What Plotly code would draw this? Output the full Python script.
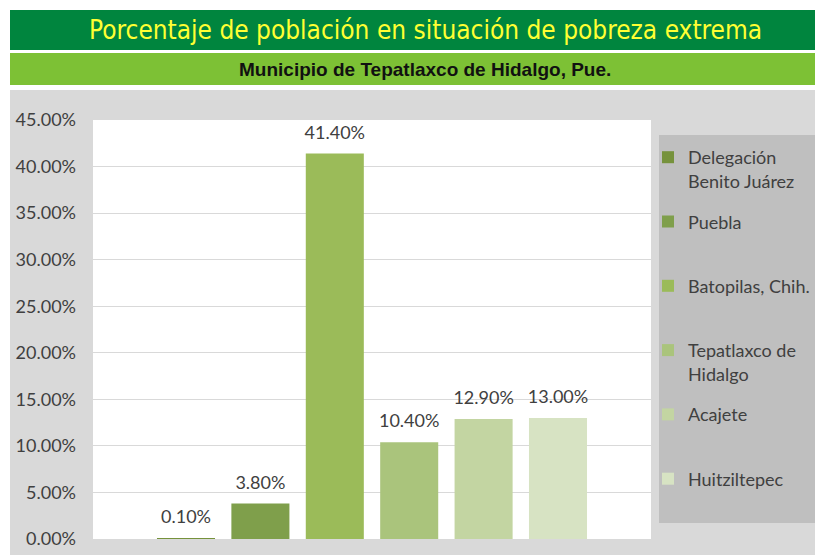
import plotly.graph_objects as go

# ---- data ----
series_names = ["Delegación<br>Benito Juárez", "Puebla<br>\u00a0", "Batopilas, Chih.<br>\u00a0",
                "Tepatlaxco de<br>Hidalgo", "Acajete<br>\u00a0", "Huitziltepec<br>\u00a0"]
series_values = [0.001, 0.038, 0.414, 0.104, 0.129, 0.130]
series_colors = ["#76923C", "#7F9F4B", "#9BBB59", "#AAC47C", "#C3D5A2", "#D7E3C3"]
category = [" "]
title_text = "Porcentaje de población en situación de pobreza extrema"
subtitle_text = "Municipio de Tepatlaxco de Hidalgo, Pue."

OFF = 8                       # page body margin of the html page
W, H = 823 - OFF, 555 - OFF   # figure size
L, R, T, B = 93, 651, 120, 539  # plot area in screen pixels
FONT = "Lato, Open Sans, sans-serif"


def px_x(p):
    return (p - L) / (R - L)


def px_y(p):
    return (B - p) / (B - T)


fig = go.Figure()
for i, (name, val, col) in enumerate(zip(series_names, series_values, series_colors)):
    fig.add_trace(go.Bar(
        x=category, y=[val], name=name, legendgroup="g%d" % i, offsetgroup="b%d" % i,
        marker=dict(color=col, line=dict(width=0)),
        hoverinfo="skip",
    ))
# value labels, placed in the same offset group as their bar
for i, (name, val) in enumerate(zip(series_names, series_values)):
    fig.add_trace(go.Scatter(
        x=category, y=[val], mode="markers+text", showlegend=False,
        legendgroup="g%d" % i, offsetgroup="b%d" % i,
        marker=dict(size=15, color="rgba(0,0,0,0)"),
        texttemplate="%{y:.2%}", textposition="top center",
        textfont=dict(family=FONT, size=18, color="#404040"),
        cliponaxis=False, hoverinfo="skip",
    ))

shapes = [
    # white area above / left of the gray chart background
    dict(type="rect", xref="paper", yref="paper", x0=px_x(0), x1=px_x(830), y0=px_y(90), y1=px_y(0),
         fillcolor="white", line=dict(width=0), layer="below"),
    dict(type="rect", xref="paper", yref="paper", x0=px_x(0), x1=px_x(10), y0=px_y(560), y1=px_y(0),
         fillcolor="white", line=dict(width=0), layer="below"),
    # dark green title band
    dict(type="rect", xref="paper", yref="paper", x0=px_x(10), x1=px_x(830), y0=px_y(50), y1=px_y(10),
         fillcolor="#00853E", line=dict(width=0), layer="below"),
    # light green subtitle band
    dict(type="rect", xref="paper", yref="paper", x0=px_x(10), x1=px_x(830), y0=px_y(85), y1=px_y(53),
         fillcolor="#7DC135", line=dict(width=0), layer="below"),
    # legend box
    dict(type="rect", xref="paper", yref="paper", x0=px_x(659), x1=px_x(819), y0=px_y(523), y1=px_y(135),
         fillcolor="#BFBFBF", line=dict(width=0), layer="below"),
]

annotations = [
    dict(text=title_text, xref="paper", yref="paper", x=px_x(425), y=px_y(30),
         xanchor="center", yanchor="middle", showarrow=False,
         font=dict(family="Liberation Sans Narrow, Arial Narrow, DejaVu Sans Condensed, sans-serif",
                   size=26, color="#FFFF33")),
    dict(text="<b>" + subtitle_text + "</b>", xref="paper", yref="paper", x=px_x(425), y=px_y(69),
         xanchor="center", yanchor="middle", showarrow=False,
         font=dict(family="Liberation Sans, Arial, sans-serif", size=19, color="#111111")),
]

fig.update_layout(
    width=W, height=H,
    margin=dict(l=L - OFF, r=W - (R - OFF), t=T - OFF, b=H - (B - OFF), pad=0, autoexpand=False),
    paper_bgcolor="#D9D9D9", plot_bgcolor="white",
    barmode="group", bargap=0.2, bargroupgap=0.22,
    scattermode="group", scattergap=0.2,
    shapes=shapes, annotations=annotations,
    showlegend=True,
    legend=dict(
        x=px_x(648), y=px_y(139), xanchor="left", yanchor="top",
        bgcolor="rgba(0,0,0,0)", borderwidth=0,
        font=dict(family=FONT, size=18, color="#404040"),
        traceorder="grouped", tracegroupgap=14.5, valign="top",
        itemclick=False,
    ),
    xaxis=dict(showticklabels=False, showgrid=False, zeroline=False, showline=False, ticks=""),
    yaxis=dict(range=[0, 0.45], dtick=0.05, tickformat=".2%",
               showgrid=True, gridcolor="#D9D9D9", gridwidth=1,
               zeroline=False, showline=False, ticks="", ticklabelstandoff=16,
               tickfont=dict(family=FONT, size=18, color="#404040")),
)

fig.write_html("out.html")
